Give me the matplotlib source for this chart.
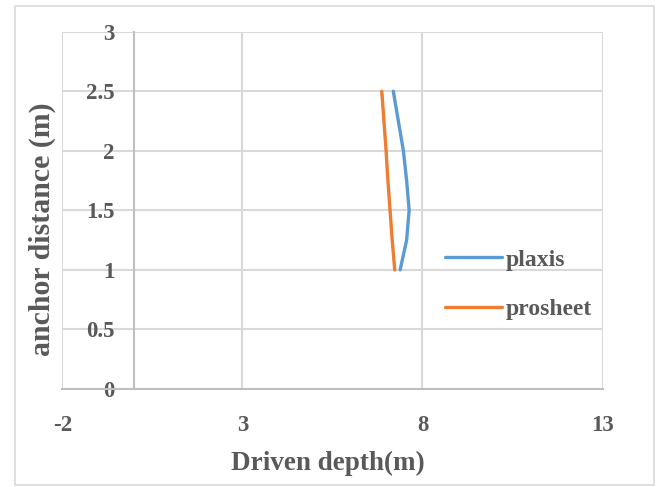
import matplotlib
matplotlib.use("Agg")
import matplotlib.pyplot as plt
from matplotlib.patches import Rectangle

# Anchor distance (m) vs driven depth (m)
anchor_distance = [1.0, 1.25, 1.5, 1.75, 2.0, 2.25, 2.5]
plaxis_depth = [7.38, 7.56, 7.63, 7.56, 7.47, 7.33, 7.19]
prosheet_depth = [7.23, 7.16, 7.10, 7.04, 6.99, 6.93, 6.87]

x_ticks = [-2, 3, 8, 13]
y_ticks = [0, 0.5, 1, 1.5, 2, 2.5, 3]
y_tick_labels = ["0", "0.5", "1", "1.5", "2", "2.5", "3"]

text_color = "#595959"
grid_color = "#d9d9d9"
axis_color = "#bfbfbf"
font = "Liberation Serif"

W, H = 660, 487
fig = plt.figure(figsize=(W / 100, H / 100), dpi=100)

# chart border
fig.patches.append(Rectangle((15 / W, 1 - 485 / H), (654 - 15) / W, (485 - 6) / H,
                             transform=fig.transFigure, fill=False,
                             edgecolor=grid_color, linewidth=1.2))

ax = fig.add_axes([62.4 / W, 1 - 389 / H, (602.5 - 62.4) / W, (389 - 31.7) / H])
ax.set_xlim(-2, 13)
ax.set_ylim(0, 3)

for x in x_ticks:
    ax.axvline(x, color=grid_color, linewidth=1.5, zorder=0)
for y in y_ticks:
    ax.axhline(y, color=grid_color, linewidth=1.5, zorder=0)

for s in ["top", "right"]:
    ax.spines[s].set_visible(False)
ax.spines["left"].set_position(("data", 0))
ax.spines["left"].set_color(axis_color)
ax.spines["left"].set_linewidth(1.5)
ax.spines["bottom"].set_color(axis_color)
ax.spines["bottom"].set_linewidth(1.5)

ax.plot(plaxis_depth, anchor_distance, color="#5B9BD5", linewidth=2.4,
        solid_capstyle="round", label="plaxis")
ax.plot(prosheet_depth, anchor_distance, color="#ED7D31", linewidth=2.4,
        solid_capstyle="round", label="prosheet")

ax.set_xticks(x_ticks)
ax.set_xticklabels([str(v) for v in x_ticks])
ax.set_yticks(y_ticks)
ax.set_yticklabels(y_tick_labels)
ax.tick_params(axis="x", length=0, pad=19, labelsize=16.5, labelcolor=text_color)
ax.tick_params(axis="y", length=0, pad=14, labelsize=16.5, labelcolor=text_color)
for lbl in ax.get_xticklabels() + ax.get_yticklabels():
    lbl.set_fontfamily(font)
    lbl.set_fontweight("bold")

fig.text(328 / W, 1 - 463 / H, "Driven depth(m)", ha="center", va="center",
         fontsize=19.5, fontweight="bold", family=font, color=text_color)
fig.text(42 / W, 1 - 229 / H, "anchor distance (m)", ha="center", va="center",
         rotation=90, fontsize=21.5, fontweight="bold", family=font, color=text_color)

leg = ax.legend(loc="upper left", bbox_to_anchor=(445 / W, 1 - 249 / H),
                bbox_transform=fig.transFigure, frameon=False,
                prop={"family": font, "weight": "bold", "size": 17},
                handlelength=2.4, handletextpad=0.15, labelspacing=1.2,
                borderaxespad=0, borderpad=0)
for t in leg.get_texts():
    t.set_color(text_color)

fig.savefig("out.png", dpi=100)
